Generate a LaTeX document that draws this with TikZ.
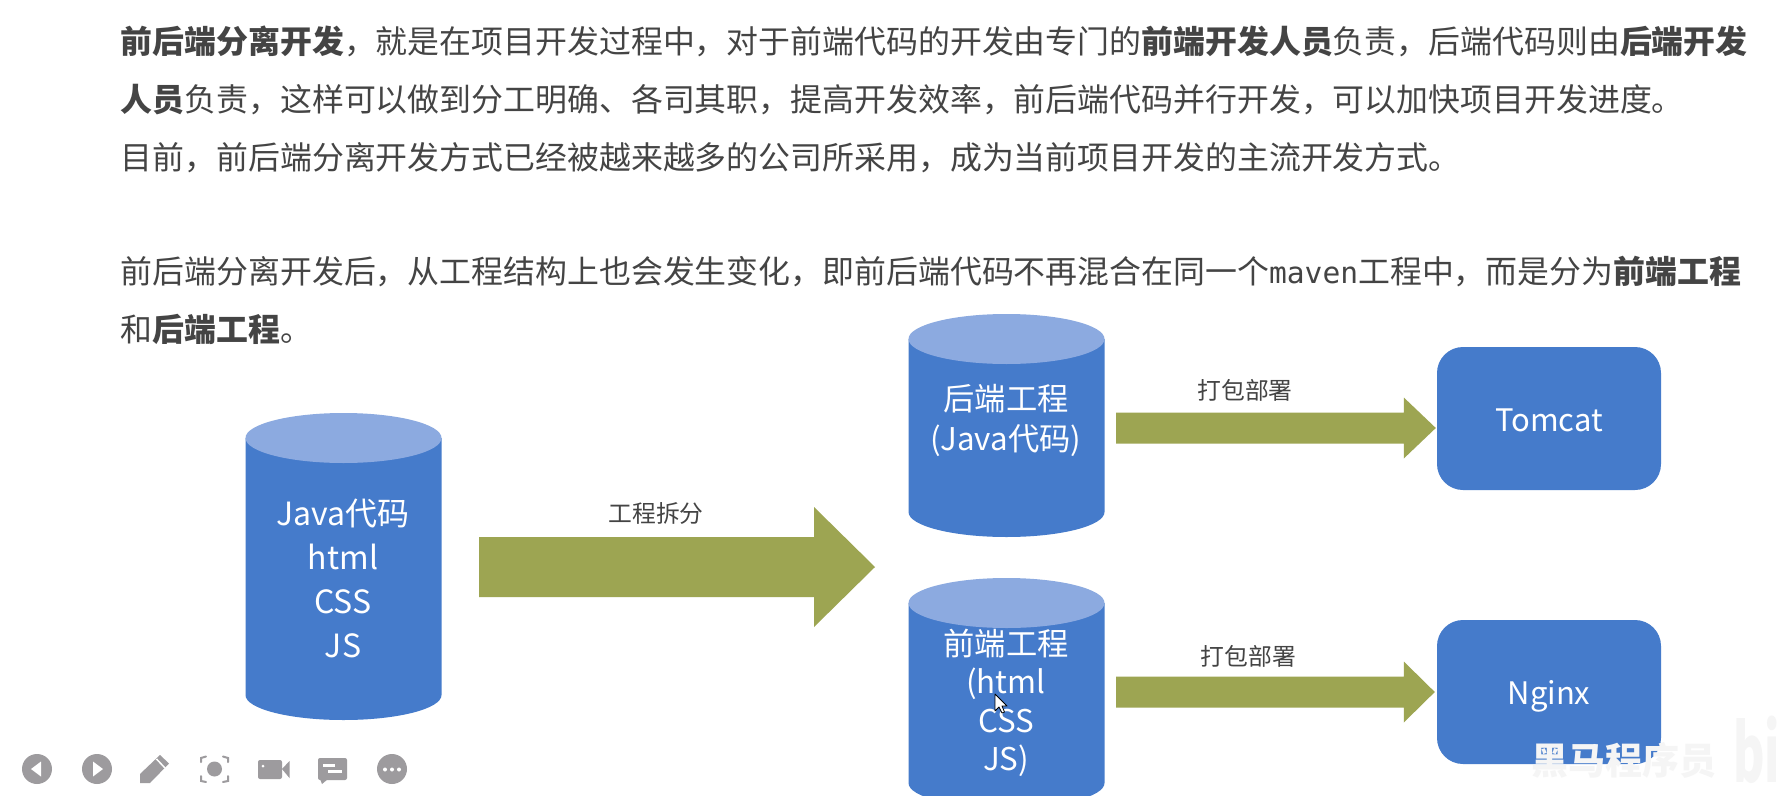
\documentclass[tikz,border=0pt]{standalone}
\usepackage{fontspec}
\setmainfont{Noto Sans CJK SC}
\newfontfamily\maven{DejaVu Sans Mono}
\usetikzlibrary{calc}
\definecolor{bodyblue}{HTML}{457BCB}
\definecolor{topblue}{HTML}{8CAAE0}
\definecolor{olive}{HTML}{9DA552}
\definecolor{ink}{HTML}{444444}
\definecolor{icon}{HTML}{9D9B9E}
\tikzset{
  para/.style={anchor=base west,inner sep=0pt,text=ink,font=\fontsize{31.9}{36}\selectfont},
  cyltext/.style={align=center,inner sep=0pt,text=white},
  arrowlabel/.style={inner sep=0pt,text=ink,font=\fontsize{23.8}{28}\selectfont},
  boxnode/.style={fill=bodyblue,rounded corners=26pt,inner sep=0pt,text=white,font=\fontsize{31}{36}\selectfont},
  blockarrow/.style={fill=olive},
  iconfill/.style={fill=icon},
}
% name, cx, top-ellipse centre y, bottom-ellipse centre y
\newcommand{\drum}[4]{%
  \fill[bodyblue] (#2-98,#3) -- (#2-98,#4) arc[start angle=180,end angle=0,x radius=98,y radius=25] -- (#2+98,#3) -- cycle;
  \fill[topblue] (#2,#3) ellipse[x radius=98,y radius=25];
  \coordinate (#1) at (#2,{(#3+#4)/2});
}
% from, to, half shaft, half head, head length
\newcommand{\blockarr}[5]{%
  \fill[blockarrow] let \p1=(#1),\p2=(#2) in
   (\x1,\y1+#3pt) -- (\x2-#5pt,\y1+#3pt) -- (\x2-#5pt,\y1+#4pt) -- (\x2,\y1) -- (\x2-#5pt,\y1-#4pt) -- (\x2-#5pt,\y1-#3pt) -- (\x1,\y1-#3pt) -- cycle;
}
\begin{document}
\begin{tikzpicture}[x=1pt,y=-1pt]
\useasboundingbox (0,0) rectangle (1780,795);
\fill[white] (0,0) rectangle (1780,795);
\clip (0,0) rectangle (1780,795);
% paragraph
\node[para] (l1) at (120.5,53) {\textbf{前后端分离开发}，就是在项目开发过程中，对于前端代码的开发由专门的\textbf{前端开发人员}负责，后端代码则由\textbf{后端开发}};
\node[para] (l2) at (120.5,111) {\textbf{人员}负责，这样可以做到分工明确、各司其职，提高开发效率，前后端代码并行开发，可以加快项目开发进度。};
\node[para] (l3) at (120.5,169) {目前，前后端分离开发方式已经被越来越多的公司所采用，成为当前项目开发的主流开发方式。};
\node[para] (l4) at (120.5,283) {前后端分离开发后，从工程结构上也会发生变化，即前后端代码不再混合在同一个{\maven\fontsize{29.6}{36}\selectfont maven}工程中，而是分为\textbf{前端工程}};
\node[para] (l5) at (120.5,341) {和\textbf{后端工程}。};
% drums
\drum{cylA}{343.5}{438}{695}
\drum{cylB}{1006.5}{339}{512}
\drum{cylC}{1006.5}{603}{783}
\node[cyltext,font=\fontsize{32}{44}\selectfont] (mono) at (343,578) {Java代码\\html\\CSS\\JS};
\node[cyltext,font=\fontsize{31.3}{40}\selectfont] (back) at (1006,420.5) {后端工程\\(Java代码)};
\node[cyltext,font=\fontsize{31.3}{38.5}\selectfont] (front) at (1006,703) {前端工程\\(html\\CSS\\JS)};
% boxes
\node[boxnode,minimum width=224pt,minimum height=143pt] (tomcat) at (1549,418.5) {\raisebox{-13pt}[0pt][0pt]{Tomcat}};
\node[boxnode,minimum width=224pt,minimum height=144pt] (nginx) at (1549,692) {\raisebox{-12pt}[0pt][0pt]{Nginx}};
% arrows
\coordinate (splitfrom) at (479,567);
\coordinate (splitto) at (875,567);
\coordinate (packBfrom) at (1116,428);
\coordinate (packCfrom) at (1116,692);
\coordinate (packBto) at ($(tomcat.west)+(-1,0)$);
\coordinate (packCto) at ($(nginx.west)+(-2,0)$);
\blockarr{splitfrom}{splitto}{30}{60}{61}
\blockarr{packBfrom}{packBto |- packBfrom}{15.5}{30.5}{32}
\blockarr{packCfrom}{packCto}{15.5}{30.5}{31}
\node[arrowlabel] (lsplit) at (656,513) {工程拆分};
\node[arrowlabel] (lpackB) at (1245,390) {打包部署};
\node[arrowlabel] (lpackC) at (1248.5,656) {打包部署};
% cursor
\draw[fill=white,draw=black,line width=0.8pt,line join=round] (995,694) -- (995,711) -- (999,707) -- (1002,713) -- (1004.5,712) -- (1002,706) -- (1007,706) -- cycle;
% player toolbar
\fill[iconfill] (37,769) circle[radius=15];
\fill[white] (31,769) -- (41,761.5) -- (41,776.5) -- cycle;
\fill[iconfill] (97,769) circle[radius=15];
\fill[white] (103,769) -- (93,761.5) -- (93,776.5) -- cycle;
\fill[iconfill] (140,783) -- (140,774) -- (160,755) -- (169,763.5) -- (150,783) -- cycle;
\draw[white,line width=1.5pt] (156.5,759) -- (165,768);
\draw[icon,line width=2pt,line cap=round] (201,762) -- (201,758) -- (206,756.5) (223,756.5) -- (228,758) -- (228,762) (201,776) -- (201,781) -- (206,782) (223,782) -- (228,781) -- (228,776);
\fill[iconfill] (214.5,769) circle[radius=7.5];
\fill[iconfill,rounded corners=2pt] (258,760) rectangle (282,779);
\fill[iconfill] (282,769) -- (289.5,761) -- (289.5,778) -- cycle;
\fill[white] (263,766) circle[radius=1.5];
\fill[iconfill,rounded corners=2pt] (318,758) rectangle (347,780);
\fill[iconfill] (320,779) -- (322,784) -- (328,779) -- cycle;
\fill[white] (323,764) rectangle (335,766.5);
\fill[white] (328,770) rectangle (342,772.5);
\fill[iconfill] (392,769) circle[radius=15];
\foreach \dotx in {385,392,399} \fill[white] (\dotx,769.5) circle[radius=2];
% watermark
\node[inner sep=0pt,anchor=base west,text=white!96!black,font=\bfseries\fontsize{37}{40}\selectfont] (wm) at (1531,774) {黑马程序员};
\node[inner sep=0pt,anchor=base west,xscale=0.6,text=white!96!black,font=\bfseries\fontsize{80}{80}\selectfont] (wmb) at (1733,782) {bi};
\end{tikzpicture}
\end{document}
